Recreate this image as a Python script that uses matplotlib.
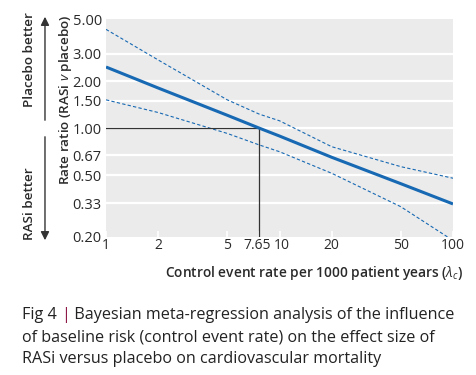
import numpy as np
import matplotlib
matplotlib.use('Agg')
import matplotlib.pyplot as plt
import matplotlib.transforms as mtransforms
from matplotlib.patches import FancyArrowPatch

plt.rcParams['font.family'] = ['Open Sans', 'DejaVu Sans']
plt.rcParams['mathtext.fontset'] = 'custom'
plt.rcParams['mathtext.rm'] = 'Open Sans'
plt.rcParams['mathtext.it'] = 'Open Sans:italic'

# values
rate = [1, 2, 5, 7.65, 10, 20, 50, 100]
ratio = [2.47, 1.81, 1.21, 1.00, 0.89, 0.65, 0.44, 0.326]
upper = [4.31, 2.74, 1.52, 1.23, 1.115, 0.76, 0.566, 0.477]
lower = [1.52, 1.26, 0.925, 0.78, 0.706, 0.513, 0.313, 0.19]

x_ticks = [1, 2, 5, 7.65, 10, 20, 50, 100]
x_labels = ['1', '2', '5', '7.65', '10', '20', '50', '100']
y_ticks = [0.20, 0.33, 0.50, 0.67, 1.00, 1.50, 2.00, 3.00, 5.00]
y_labels = ['0.20', '0.33', '0.50', '0.67', '1.00', '1.50', '2.00', '3.00', '5.00']
cross_x = 7.65

blue = '#1769b3'
txt = '#2a2a2a'

fig = plt.figure(figsize=(4.76, 3.75), dpi=100)
ax = fig.add_axes([0.2227, 0.368, 0.729, 0.5805])
ax.set_facecolor('#ebebeb')
ax.set_xscale('log')
ax.set_yscale('log')
ax.set_xlim(1, 100)
ax.set_ylim(0.2, 5)

for yv in y_ticks[1:-1]:
    ax.axhline(yv, color='white', lw=1.6, zorder=1)

ax.plot(rate, ratio, color=blue, lw=2.2, zorder=4, solid_capstyle='butt')
ax.plot(rate, upper, color=blue, lw=0.8, ls=(0, (3, 2)), zorder=3)
ax.plot(rate, lower, color=blue, lw=0.8, ls=(0, (3, 2)), zorder=3)

ax.plot([1, cross_x], [1, 1], color='#333333', lw=0.9, zorder=3)
ax.plot([cross_x, cross_x], [0.2, 1], color='#333333', lw=0.9, zorder=3)

ax.set_xticks(x_ticks)
ax.set_xticklabels(x_labels)
ax.set_yticks(y_ticks)
ax.set_yticklabels(y_labels)
ax.minorticks_off()
ax.tick_params(axis='x', direction='in', length=4, width=1.2, color='white',
               labelsize=10, labelcolor=txt, pad=1)
ax.tick_params(axis='y', length=0, labelsize=10.5, labelcolor=txt, pad=3)
for s in ax.spines.values():
    s.set_visible(False)
# nudge the crowded 7.65 / 10 labels apart a touch
shifts = {'7.65': -2, '10': 2}
for lab in ax.get_xticklabels():
    dx = shifts.get(lab.get_text(), 0)
    if dx:
        lab.set_transform(lab.get_transform() + mtransforms.ScaledTranslation(
            dx / 100, 0, fig.dpi_scale_trans))

fig.text(0.973, 0.272, r'Control event rate per 1000 patient years ($\lambda_c$)',
         ha='right', va='center', fontsize=9.9, color=txt, weight='semibold')
fig.text(0.137, 0.733, r'Rate ratio (RASi $\mathit{v}$ placebo)', rotation=90,
         ha='center', va='center', fontsize=9.7, color=txt, weight='semibold')

fig.text(0.063, 0.84, 'Placebo better', rotation=90, ha='center', va='center',
         fontsize=9.7, color=txt, weight='semibold')
fig.text(0.063, 0.456, 'RASi better', rotation=90, ha='center', va='center',
         fontsize=9.7, color=txt, weight='semibold')
fig.add_artist(FancyArrowPatch(
    (0.0945, 1 - 123 / 375), (0.0945, 1 - 14 / 375), transform=fig.transFigure,
    arrowstyle='-|>,head_length=5,head_width=2.5', color='#333333', lw=1))
fig.add_artist(FancyArrowPatch(
    (0.0945, 1 - 134 / 375), (0.0945, 1 - 243 / 375), transform=fig.transFigure,
    arrowstyle='-|>,head_length=5,head_width=2.5', color='#333333', lw=1))

cap = dict(fontsize=11.6, color='#222222', va='baseline')
t1 = fig.text(0.046, 1 - 319 / 375, 'Fig 4 ', **cap)
t2 = ax.annotate('|', xy=(1, 0), xycoords=t1, ha='left', va='bottom',
                 fontsize=11.6, color='#8e1a48', annotation_clip=False)
ax.annotate(' Bayesian meta-regression analysis of the influence', xy=(1, 0),
            xycoords=t2, ha='left', va='bottom', fontsize=11.6, color='#222222',
            annotation_clip=False)
fig.text(0.046, 1 - 341 / 375,
         'of baseline risk (control event rate) on the effect size of', **cap)
fig.text(0.046, 1 - 363 / 375,
         'RASi versus placebo on cardiovascular mortality', **cap)

fig.savefig('out.png', dpi=100)
